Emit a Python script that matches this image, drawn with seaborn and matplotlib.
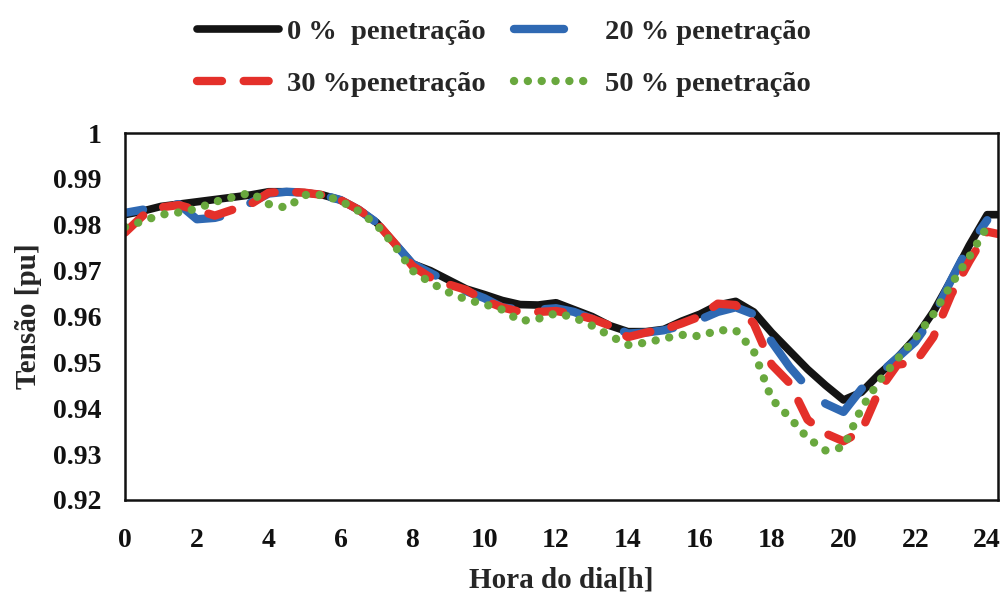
import numpy as np
import pandas as pd
import matplotlib
matplotlib.use("Agg")
import matplotlib.pyplot as plt
import seaborn as sns

# Hour of day (half-hour steps, last point closes the profile at the frame edge)
hours = [0, 0.5, 1, 1.5, 2, 2.5, 3, 3.5, 4, 4.5, 5, 5.5, 6, 6.5, 7, 7.5,
         8, 8.5, 9, 9.5, 10, 10.5, 11, 11.5, 12, 12.5, 13, 13.5, 14, 14.5,
         15, 15.5, 16, 16.5, 17, 17.5, 18, 18.5, 19, 19.5, 20, 20.5, 21,
         21.5, 22, 22.5, 23, 23.5, 24, 24.3]

# Voltage profiles [pu] for each PV penetration level
v_pen0 = [0.9822, 0.983, 0.984, 0.9845, 0.985, 0.9855, 0.986, 0.9865, 0.9872, 0.9872,
          0.987, 0.9865, 0.9854, 0.9833, 0.9805, 0.976, 0.9715, 0.970, 0.968, 0.966,
          0.9648, 0.9635, 0.9626, 0.9625, 0.963, 0.9615, 0.960, 0.958, 0.9567, 0.9567,
          0.9572, 0.959, 0.9605, 0.9625, 0.9633, 0.961, 0.9565, 0.9525, 0.9485, 0.945,
          0.9418, 0.9435, 0.9475, 0.951, 0.9553, 0.961, 0.968, 0.9755, 0.9822, 0.9822]
v_pen20 = [0.9826, 0.9833, 0.984, 0.9845, 0.9812, 0.9815, 0.9825, 0.9848, 0.9868, 0.9872,
           0.987, 0.9865, 0.9854, 0.9833, 0.9805, 0.976, 0.9715, 0.9695, 0.9675, 0.9655,
           0.964, 0.962, 0.9615, 0.9615, 0.9618, 0.961, 0.9595, 0.958, 0.9563, 0.9565,
           0.957, 0.958, 0.9593, 0.961, 0.962, 0.9605, 0.9545, 0.949, 0.9445, 0.941,
           0.9392, 0.9442, 0.9475, 0.951, 0.9545, 0.960, 0.968, 0.9755, 0.981, np.nan]
v_pen30 = [0.9783, 0.982, 0.9838, 0.9843, 0.9832, 0.982, 0.9833, 0.9845, 0.987, 0.9872,
           0.987, 0.9865, 0.9854, 0.9833, 0.9805, 0.976, 0.971, 0.9685, 0.967, 0.9658,
           0.9635, 0.962, 0.961, 0.961, 0.9612, 0.9605, 0.9595, 0.958, 0.9555, 0.9565,
           0.9572, 0.9585, 0.960, 0.9628, 0.9625, 0.9585, 0.9495, 0.9455, 0.9375, 0.9345,
           0.9328, 0.935, 0.944, 0.9495, 0.950, 0.9555, 0.9648, 0.972, 0.9785, 0.978]
v_pen50 = [0.9795, 0.9808, 0.9822, 0.9827, 0.9835, 0.985, 0.986, 0.987, 0.9845, 0.9837,
           0.9865, 0.9865, 0.9852, 0.983, 0.980, 0.9755, 0.970, 0.9674, 0.9653, 0.9637,
           0.9627, 0.9615, 0.959, 0.9595, 0.9607, 0.9598, 0.958, 0.9558, 0.9538, 0.9543,
           0.9552, 0.956, 0.9557, 0.957, 0.957, 0.9525, 0.942, 0.938, 0.9335, 0.9308,
           0.9315, 0.940, 0.946, 0.9507, 0.9553, 0.9605, 0.967, 0.973, 0.9796, np.nan]

labels = ["0 %  penetração", "20 % penetração", "30 %penetração", "50 % penetração"]
x_ticks = [0, 2, 4, 6, 8, 10, 12, 14, 16, 18, 20, 22, 24]
y_ticks = [0.92, 0.93, 0.94, 0.95, 0.96, 0.97, 0.98, 0.99, 1.0]
y_ticklabels = ["0.92", "0.93", "0.94", "0.95", "0.96", "0.97", "0.98", "0.99", "1"]

sns.set_style("white")
plt.rcParams["font.family"] = ["Liberation Serif", "DejaVu Serif"]
plt.rcParams["font.weight"] = "bold"

fig = plt.figure(figsize=(10.05, 5.96), dpi=100)
ax = fig.add_axes([0.1244, 0.1611, 0.993 - 0.1244, 0.7768 - 0.1611])

blue_dash = (6.0, 4.0)
styles = [
    dict(color="#141414", lw=5.5, linestyle="-", solid_capstyle="round"),
    dict(color="#2f69b3", lw=6.0, linestyle=(3.8, blue_dash), dash_capstyle="round"),
    dict(color="#e4302a", lw=6.0, linestyle=(0, (3.0, 2.6)), dash_capstyle="round"),
    dict(color="#69a83e", lw=6.0, linestyle=(0, (0.01, 1.65)), dash_capstyle="round"),
]
series = [v_pen0, v_pen20, v_pen30, v_pen50]

for lab, vals, st in zip(labels, series, styles):
    df = pd.DataFrame({"hora": hours, "tensao": vals}).dropna()
    sns.lineplot(data=df, x="hora", y="tensao", ax=ax, label=lab,
                 estimator=None, sort=False, **st)

ax.set_xlim(0, 24.3)
ax.set_ylim(0.92, 1.0)
ax.set_xticks(x_ticks)
ax.set_xticklabels([str(t) for t in x_ticks])
ax.set_yticks(y_ticks)
ax.set_yticklabels(y_ticklabels)
ax.tick_params(axis="both", direction="in", labelsize=20, width=1.5,
               colors="#111111")
ax.tick_params(axis="x", length=8, pad=20)
ax.tick_params(axis="y", length=7, pad=17)
for side in ["left", "right", "top", "bottom"]:
    ax.spines[side].set_visible(True)
    ax.spines[side].set_color("#111111")
    ax.spines[side].set_linewidth(1.8)

ax.set_xlabel("Hora do dia[h]", fontsize=21, fontweight="bold", labelpad=10)
ax.set_ylabel("Tensão [pu]", fontsize=21, fontweight="bold", labelpad=8)

handles, labs = ax.get_legend_handles_labels()
order = [0, 2, 1, 3]
leg = ax.legend([handles[i] for i in order], [labs[i] for i in order],
                ncol=2, loc="upper left", bbox_to_anchor=(197 / 1005, 1 - 19 / 596),
                bbox_transform=fig.transFigure, frameon=False,
                borderpad=0, borderaxespad=0, handlelength=2.88, handletextpad=0.29,
                columnspacing=1.0, labelspacing=0.92, prop=dict(weight="bold", size=20.5))
# legend swatch of the 20 % series starts at the beginning of a dash
leg.get_lines()[2].set_linestyle((0, blue_dash))

fig.savefig("out.png", dpi=100)
